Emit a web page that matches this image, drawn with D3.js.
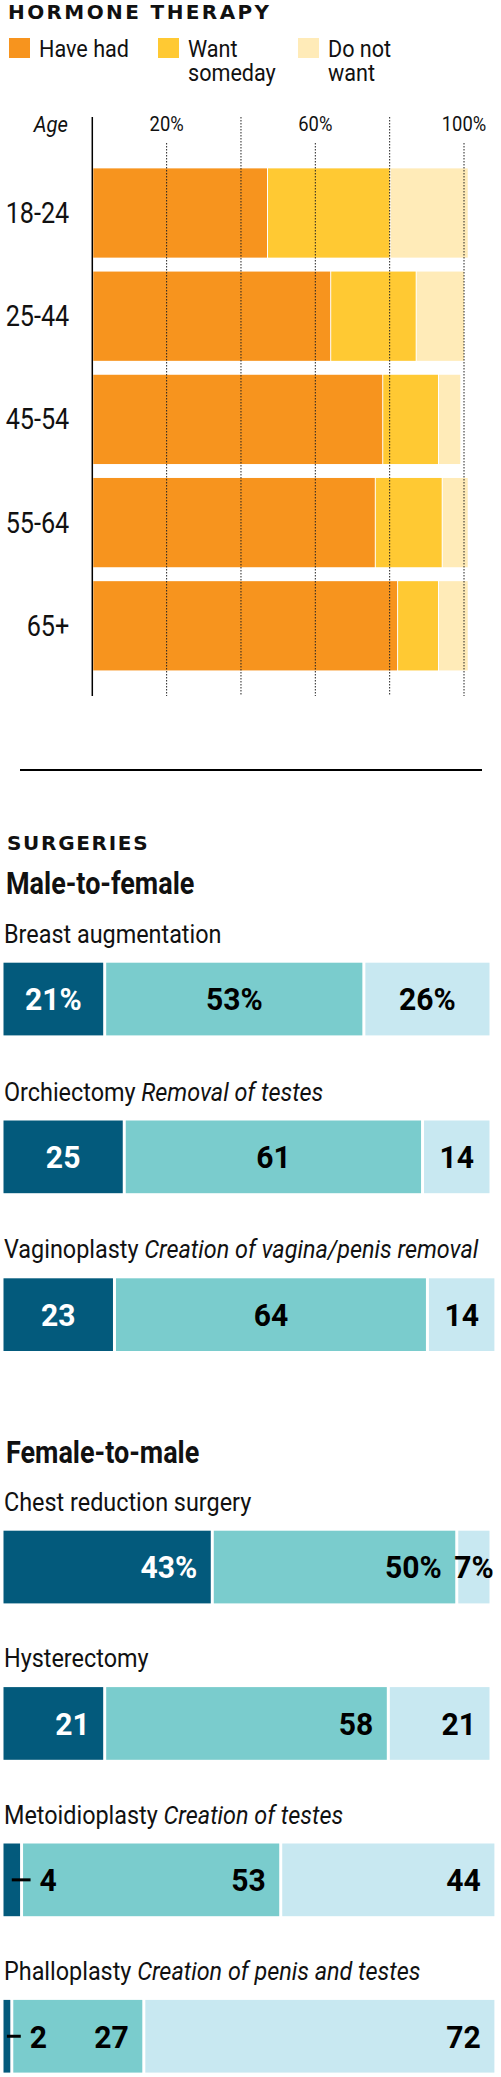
<!DOCTYPE html>
<html>
<head>
<meta charset="utf-8">
<script src="https://cdn.jsdelivr.net/npm/d3@7"></script>
<style>
body { margin: 0; background: #fff; }
svg { display: block; }
text { font-family: Roboto, 'Liberation Sans', sans-serif; fill: #111; }
.head { font-family: 'DejaVu Sans', sans-serif; font-weight: bold; letter-spacing: 2.4px; }
</style>
</head>
<body>
<svg id="chart" width="501" height="2077"></svg>
<script>
// hormone therapy, share of each age group (%)
const ages = ["18-24", "25-44", "45-54", "55-64", "65+"];
const haveHad = [47, 64, 78, 76, 82];
const wantSomeday = [33, 23, 15, 18, 11];
const doNotWant = [21, 13, 6, 7, 8];
const hormoneKeys = ["Have had", "Want someday", "Do not want"];
const hormoneLegend = [["Have had"], ["Want", "someday"], ["Do not", "want"]];
const hormoneTicks = [20, 40, 60, 80, 100];
const hormoneTickLabels = [20, 60, 100];

// surgeries (%)
const mtfProcedures = ["Breast augmentation", "Orchiectomy", "Vaginoplasty"];
const mtfNotes = ["", "Removal of testes", "Creation of vagina/penis removal"];
const mtfHave = [21, 25, 23];
const mtfWant = [53, 61, 64];
const mtfNot = [26, 14, 14];

const ftmProcedures = ["Chest reduction surgery", "Hysterectomy", "Metoidioplasty", "Phalloplasty"];
const ftmNotes = ["", "", "Creation of testes", "Creation of penis and testes"];
const ftmHave = [43, 21, 4, 2];
const ftmWant = [50, 58, 53, 27];
const ftmNot = [7, 21, 44, 72];

const hormoneColors = ["#f7941e", "#ffc933", "#ffebb8"];
const surgeryColors = ["#035a7c", "#7acccd", "#c8e8f1"];

const svg = d3.select("#chart");

// no condensed face installed, so narrow the glyphs by hand
function squeeze(sel, k) {
    sel.each(function() {
        const x = +this.getAttribute("x") || 0, y = +this.getAttribute("y") || 0;
        this.setAttribute("x", 0);
        this.setAttribute("y", 0);
        this.setAttribute("transform", `translate(${x},${y}) scale(${k},1)`);
    });
}

// ---------- hormone therapy ----------
svg.append("text").attr("class", "head")
    .attr("x", 8).attr("y", 18.5)
    .attr("font-size", 20)
    .text("HORMONE THERAPY");

const legendX = [9, 158, 298];
const leg = svg.append("g").selectAll("g")
    .data(hormoneLegend)
    .join("g")
    .attr("transform", (d, i) => `translate(${legendX[i]},0)`);
leg.append("rect")
    .attr("x", 0).attr("y", 38).attr("width", 21).attr("height", 20)
    .attr("fill", (d, i) => hormoneColors[i]);
leg.append("text")
    .attr("x", 30).attr("y", 57)
    .attr("font-size", 24)
    .call(squeeze, 0.9)
    .selectAll("tspan")
    .data(d => d)
    .join("tspan")
    .attr("x", 0)
    .attr("dy", (d, i) => i ? 24.5 : 0)
    .text(d => d);

const hx = d3.scaleLinear().domain([0, 100]).range([92.3, 464]);
const hy = d3.scaleBand().domain(ages).range([161.4, 677.4])
    .paddingInner(0.135).paddingOuter(0.0675);

const hormoneTable = ages.map((a, i) => ({
    age: a,
    "Have had": haveHad[i],
    "Want someday": wantSomeday[i],
    "Do not want": doNotWant[i]
}));
const hormoneStack = d3.stack().keys(hormoneKeys)(hormoneTable);

svg.append("g")
    .selectAll("g")
    .data(hormoneStack)
    .join("g")
    .attr("fill", (d, i) => hormoneColors[i])
    .selectAll("rect")
    .data(d => d)
    .join("rect")
    .attr("x", d => hx(d[0]) + 1)
    .attr("y", d => hy(d.data.age))
    .attr("width", d => hx(d[1]) - hx(d[0]) - 1)
    .attr("height", hy.bandwidth());

// dotted gridlines sit on top of the bars
svg.append("g")
    .selectAll("line")
    .data(hormoneTicks)
    .join("line")
    .attr("x1", d => hx(d)).attr("x2", d => hx(d))
    .attr("y1", d => hormoneTickLabels.includes(d) ? 143 : 117)
    .attr("y2", 696)
    .attr("stroke", "#222")
    .attr("stroke-width", 1)
    .attr("stroke-dasharray", "1.5,1.5");

svg.append("g")
    .selectAll("text")
    .data(hormoneTickLabels)
    .join("text")
    .attr("x", d => hx(d)).attr("y", 131)
    .attr("text-anchor", "middle")
    .attr("font-size", 20)
    .call(squeeze, 0.92)
    .text(d => d + "%");

svg.append("line")
    .attr("x1", hx(0)).attr("x2", hx(0))
    .attr("y1", 117).attr("y2", 696)
    .attr("stroke", "#000").attr("stroke-width", 1.5);

const ageAxis = svg.append("g")
    .attr("transform", `translate(${hx(0)},0)`)
    .call(d3.axisLeft(hy).tickSize(0).tickPadding(23));
ageAxis.select(".domain").remove();
ageAxis.attr("font-family", null);
ageAxis.selectAll("text")
    .attr("font-size", 29)
    .attr("fill", "#111")
    .attr("y", 10)
    .attr("dy", null)
    .call(squeeze, 0.87);

svg.append("text")
    .attr("x", 68).attr("y", 132)
    .attr("text-anchor", "end")
    .attr("font-size", 22)
    .attr("font-style", "italic")
    .call(squeeze, 0.92)
    .text("Age");

svg.append("line")
    .attr("x1", 20).attr("x2", 482)
    .attr("y1", 770).attr("y2", 770)
    .attr("stroke", "#000").attr("stroke-width", 2);

// ---------- surgeries ----------
svg.append("text").attr("class", "head")
    .attr("x", 7).attr("y", 849.5)
    .attr("font-size", 20)
    .style("letter-spacing", "1.7px")
    .text("SURGERIES");

const sx = d3.scaleLinear().domain([0, 100]).range([2, 491]);
const surgKeys = ["have", "want", "not"];
const barH = 72.7;

function drawGroup(title, titleY, procs, notes, have, want, not, top, step, align) {
    svg.append("text")
        .attr("x", 6).attr("y", titleY)
        .attr("font-size", 31)
        .attr("font-weight", "bold")
        .call(squeeze, 0.87)
        .text(title);

    const gy = d3.scaleBand().domain(procs).range([top, top + step * procs.length]);
    const table = procs.map((p, i) => ({ proc: p, note: notes[i], first: i === 0, have: have[i], want: want[i], not: not[i] }));
    const stack = d3.stack().keys(surgKeys)(table);

    const g = svg.append("g");

    const lbl = g.selectAll("text.proc")
        .data(table)
        .join("text")
        .attr("class", "proc")
        .attr("x", 4)
        .attr("y", d => gy(d.proc) - 20)
        .attr("font-size", 26)
        .call(squeeze, 0.9);
    lbl.append("tspan").text(d => d.proc);
    lbl.append("tspan")
        .attr("font-style", "italic")
        .text(d => d.note ? " " + d.note : "");

    g.selectAll("g.series")
        .data(stack)
        .join("g")
        .attr("class", "series")
        .attr("fill", (s, k) => surgeryColors[k])
        .selectAll("rect")
        .data(s => s)
        .join("rect")
        .attr("x", d => sx(d[0]) + 1.5)
        .attr("y", d => gy(d.data.proc))
        .attr("width", d => Math.max(0, sx(d[1]) - sx(d[0]) - 3))
        .attr("height", barH);

    // value labels in their own layer so no bar covers them
    const items = stack.flatMap((s, k) => s.map(d => ({ d: d, k: k })));
    const labels = g.append("g");
    const lk = 0.94;
    items.forEach(({ d, k }) => {
        const v = d[1] - d[0];
        const x0 = sx(d[0]), x1 = sx(d[1]);
        const cy = gy(d.data.proc) + barH / 2;
        const t = labels.append("text")
            .attr("y", cy + 11.4)
            .attr("font-size", 32)
            .attr("font-weight", "bold")
            .style("fill", k === 0 ? "#fff" : "#000")
            .text(v + (d.data.first ? "%" : ""));
        const w = x1 - x0;
        if (w < 25) {
            // tiny segment: label outside, with a short leader
            t.attr("x", x1 + 18).attr("text-anchor", "start").style("fill", "#000");
            labels.append("line")
                .attr("x1", (x0 + x1) / 2).attr("x2", x1 + 9)
                .attr("y1", cy).attr("y2", cy)
                .attr("stroke", "#000").attr("stroke-width", 3);
        } else if (align === "middle" || t.node().getComputedTextLength() * lk + 24 > w) {
            t.attr("x", (x0 + x1) / 2).attr("text-anchor", "middle");
        } else {
            t.attr("x", x1 - 15).attr("text-anchor", "end");
        }
        squeeze(t, lk);
    });
}

drawGroup("Male-to-female", 894.3, mtfProcedures, mtfNotes, mtfHave, mtfWant, mtfNot, 962.7, 157.8, "middle");
drawGroup("Female-to-male", 1463.3, ftmProcedures, ftmNotes, ftmHave, ftmWant, ftmNot, 1530.7, 156.4, "end");
</script>
</body>
</html>
